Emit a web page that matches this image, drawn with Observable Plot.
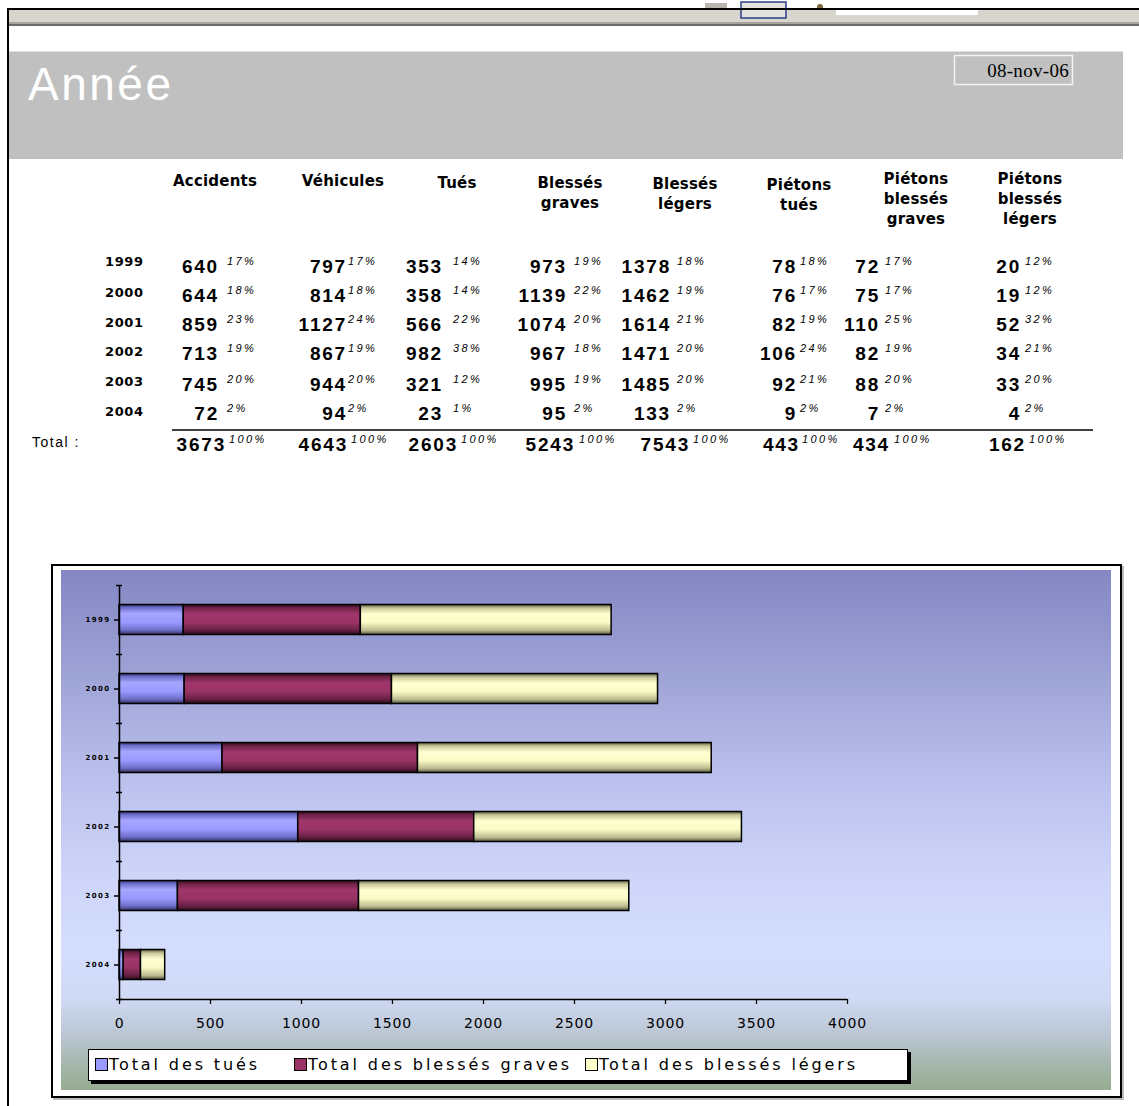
<!DOCTYPE html>
<html>
<head>
<meta charset="utf-8">
<script src="https://cdn.jsdelivr.net/npm/d3@7"></script>
<script src="https://cdn.jsdelivr.net/npm/@observablehq/plot@0.6"></script>
<style>
  html, body { margin: 0; padding: 0; background: #fff; }
  #page { position: relative; width: 1139px; height: 1106px; overflow: hidden; background: #fff; }
  .abs { position: absolute; }
  #chartFrame { left: 51px; top: 564px; width: 1067px; height: 530px; border: 2px solid #000; background: #fff; box-shadow: 2px 2px 0 #bbb; }
  #chartBg { left: 61px; top: 570px; width: 1050px; height: 520px;
    background: linear-gradient(to bottom, #8487c3 0%, #9ea3d6 20%, #bac0ec 40%, #cdd4f8 58%, #d4ddfe 72%, #d0daf6 82%, #b9c5d0 90%, #a2b4a6 96%, #97ac91 100%); }
  #plotHolder { left: 61px; top: 570px; width: 1050px; height: 520px; }
  #plotHolder svg { overflow: visible; }
  #plotHolder g[aria-label="x-axis tick label"] text { letter-spacing: 0.8px; }
  #plotHolder g[aria-label="y-axis tick label"] text { letter-spacing: 1.4px; }
  #legend { left: 88px; top: 1049px; width: 818px; height: 30px; border: 1px solid #000; background: #fff; box-shadow: 3px 3px 0 #000; }
  .legItem { position: absolute; top: 6px; font-family: "DejaVu Sans", sans-serif; font-size: 16px; letter-spacing: 2.9px; color: #000; line-height: 17px; white-space: nowrap; }
  .sw { display: inline-block; width: 11px; height: 11px; border: 1px solid #000; margin-right: 1px; vertical-align: -1px; }
</style>
</head>
<body>
<div id="page">
  <svg width="0" height="0" style="position:absolute">
    <defs>
      <linearGradient id="gT" x1="0" y1="0" x2="0" y2="1">
        <stop offset="0" stop-color="#303066"/>
        <stop offset="0.1" stop-color="#6c6cca"/>
        <stop offset="0.3" stop-color="#a6a6ff"/>
        <stop offset="0.6" stop-color="#9999ff"/>
        <stop offset="0.85" stop-color="#6e6ec8"/>
        <stop offset="1" stop-color="#2e2e5c"/>
      </linearGradient>
      <linearGradient id="gG" x1="0" y1="0" x2="0" y2="1">
        <stop offset="0" stop-color="#300c1c"/>
        <stop offset="0.12" stop-color="#702448"/>
        <stop offset="0.32" stop-color="#a0366c"/>
        <stop offset="0.6" stop-color="#993366"/>
        <stop offset="0.86" stop-color="#662042"/>
        <stop offset="1" stop-color="#2c0a1a"/>
      </linearGradient>
      <linearGradient id="gL" x1="0" y1="0" x2="0" y2="1">
        <stop offset="0" stop-color="#5a5a40"/>
        <stop offset="0.12" stop-color="#c8c89a"/>
        <stop offset="0.32" stop-color="#ffffd2"/>
        <stop offset="0.6" stop-color="#fafac6"/>
        <stop offset="0.86" stop-color="#bcbc90"/>
        <stop offset="1" stop-color="#55553c"/>
      </linearGradient>
    </defs>
  </svg>
  <div id="chartFrame" class="abs"></div>
  <div id="chartBg" class="abs"></div>
  <div id="plotHolder" class="abs"></div>
  <div id="legend" class="abs"></div>
</div>
<script>
// ---------- data ----------
const years = ["1999", "2000", "2001", "2002", "2003", "2004"];
const headerLines = [
  ["Accidents"], ["Véhicules"], ["Tués"], ["Blessés", "graves"], ["Blessés", "légers"],
  ["Piétons", "tués"], ["Piétons", "blessés", "graves"], ["Piétons", "blessés", "légers"]
];
const accidents = [640, 644, 859, 713, 745, 72];
const vehicules = [797, 814, 1127, 867, 944, 94];
const tues = [353, 358, 566, 982, 321, 23];
const blessesGraves = [973, 1139, 1074, 967, 995, 95];
const blessesLegers = [1378, 1462, 1614, 1471, 1485, 133];
const pietonsTues = [78, 76, 82, 106, 92, 9];
const pietonsBlessesGraves = [72, 75, 110, 82, 88, 7];
const pietonsBlessesLegers = [20, 19, 52, 34, 33, 4];

const accidentsPct = [17, 18, 23, 19, 20, 2];
const vehiculesPct = [17, 18, 24, 19, 20, 2];
const tuesPct = [14, 14, 22, 38, 12, 1];
const blessesGravesPct = [19, 22, 20, 18, 19, 2];
const blessesLegersPct = [18, 19, 21, 20, 20, 2];
const pietonsTuesPct = [18, 17, 19, 24, 21, 2];
const pietonsBlessesGravesPct = [17, 17, 25, 19, 20, 2];
const pietonsBlessesLegersPct = [12, 12, 32, 21, 20, 2];

const totals = [3673, 4643, 2603, 5243, 7543, 443, 434, 162];
const totalPct = [100, 100, 100, 100, 100, 100, 100, 100];

const seriesNames = ["Total des tués", "Total des blessés graves", "Total des blessés légers"];
const xTicks = [0, 500, 1000, 1500, 2000, 2500, 3000, 3500, 4000];
const titleText = "Année";
const dateText = "08-nov-06";
const totalLabel = "Total :";

// ---------- layout constants ----------
const colCenters = [215, 343, 457, 570, 685, 799, 916, 1030];
const headBase = [186, 186, 188, 188, 189, 190, 184, 184];
const numRight = [219, 347, 443, 567, 671, 797, 880, 1021];
const pctLeft = [227, 348, 453, 574, 677, 800, 885, 1025];
const totRight = [226, 348, 458, 575, 690, 800, 890, 1026];
const totPctLeft = [229, 351, 461, 579, 693, 802, 894, 1029];
const rowBase = [273, 302, 331, 360, 391, 420];
const yearBase = [266, 297, 327, 356, 386, 416];

const colValues = [accidents, vehicules, tues, blessesGraves, blessesLegers, pietonsTues, pietonsBlessesGraves, pietonsBlessesLegers];
const colPcts = [accidentsPct, vehiculesPct, tuesPct, blessesGravesPct, blessesLegersPct, pietonsTuesPct, pietonsBlessesGravesPct, pietonsBlessesLegersPct];

// ---------- page text (header + table) ----------
const page = d3.select("#page");
const hdr = page.insert("svg", ":first-child")
  .attr("width", 1139).attr("height", 560)
  .style("position", "absolute").style("left", 0).style("top", 0);

// window chrome
hdr.append("rect").attr("x", 9).attr("y", 10).attr("width", 1130).attr("height", 12).attr("fill", "#d8d5cd");
hdr.append("rect").attr("x", 9).attr("y", 22).attr("width", 1130).attr("height", 2).attr("fill", "#a6a49e");
hdr.append("rect").attr("x", 9).attr("y", 24).attr("width", 1130).attr("height", 2).attr("fill", "#6c6b68");
hdr.append("rect").attr("x", 836).attr("y", 10).attr("width", 142).attr("height", 5).attr("fill", "#fff");
hdr.append("rect").attr("x", 741).attr("y", 2).attr("width", 45).attr("height", 16).attr("fill", "#e4e2dc").attr("stroke", "#2a3f8a").attr("stroke-width", 1.5);
hdr.append("rect").attr("x", 705).attr("y", 3).attr("width", 22).attr("height", 5).attr("fill", "#b8b6ae");
hdr.append("circle").attr("cx", 820).attr("cy", 7).attr("r", 3).attr("fill", "#7a6a40");
hdr.append("rect").attr("x", 7).attr("y", 8).attr("width", 1132).attr("height", 2).attr("fill", "#000");

// header band
hdr.append("rect").attr("x", 9).attr("y", 52).attr("width", 1114).attr("height", 107).attr("fill", "#c0c0c0");
hdr.append("rect").attr("x", 9).attr("y", 51).attr("width", 1114).attr("height", 1).attr("fill", "#e0e0e0");
hdr.append("text").attr("x", 28).attr("y", 100).text(titleText)
  .attr("fill", "#fff").style("font-family", "Liberation Sans, Arial, sans-serif")
  .style("font-size", "46px").style("letter-spacing", "2.5px");
hdr.append("rect").attr("x", 954.5).attr("y", 55.5).attr("width", 118).attr("height", 29)
  .attr("fill", "none").attr("stroke", "#f2f2f2").attr("stroke-width", 1.5);
hdr.append("text").attr("x", 1069).attr("y", 77).attr("text-anchor", "end").text(dateText)
  .attr("fill", "#000").style("font-family", "Liberation Serif, serif").style("font-size", "19px")
  .style("letter-spacing", "0.3px");

// column headers
headerLines.forEach((lines, c) => {
  lines.forEach((ln, k) => {
    hdr.append("text").attr("x", colCenters[c]).attr("y", headBase[c] + k * 20)
      .attr("text-anchor", "middle").text(ln)
      .style("font-family", "DejaVu Sans, sans-serif").style("font-weight", "bold")
      .style("font-size", "15px").style("letter-spacing", "0.2px");
  });
});

// year rows
const numStyle = s => s.style("font-family", "Liberation Sans, Arial, sans-serif").style("font-weight", "bold")
  .style("font-size", "19px").style("letter-spacing", "1.8px");
const pctStyle = s => s.style("font-family", "Liberation Sans, Arial, sans-serif").style("font-style", "italic")
  .style("font-size", "11px").style("letter-spacing", "2.4px");

years.forEach((yr, r) => {
  hdr.append("text").attr("x", 105).attr("y", yearBase[r]).text(yr)
    .style("font-family", "DejaVu Sans, sans-serif").style("font-weight", "bold")
    .style("font-size", "13px").style("letter-spacing", "0.6px");
  colValues.forEach((vals, c) => {
    numStyle(hdr.append("text").attr("x", numRight[c]).attr("y", rowBase[r]).attr("text-anchor", "end").text(vals[r]));
    pctStyle(hdr.append("text").attr("x", pctLeft[c]).attr("y", rowBase[r] - 8).text(colPcts[c][r] + "%"));
  });
});

// total row
hdr.append("line").attr("x1", 172).attr("x2", 1093).attr("y1", 430).attr("y2", 430).attr("stroke", "#000").attr("stroke-width", 1.5);
hdr.append("text").attr("x", 32).attr("y", 447).text(totalLabel)
  .style("font-family", "Liberation Sans, Arial, sans-serif").style("font-size", "14px").style("letter-spacing", "1.5px");
totals.forEach((t, c) => {
  numStyle(hdr.append("text").attr("x", totRight[c]).attr("y", 451).attr("text-anchor", "end").text(t));
  pctStyle(hdr.append("text").attr("x", totPctLeft[c]).attr("y", 443).text(totalPct[c] + "%"));
});

// left window border
page.append("div").attr("class", "abs").style("left", "7px").style("top", "8px")
  .style("width", "2px").style("height", "1100px").style("background", "#000");

// ---------- chart ----------
const seriesValues = [tues, blessesGraves, blessesLegers];
const data = years.flatMap((yr, i) => seriesNames.map((s, j) => ({ year: yr, series: s, value: seriesValues[j][i] })));
const fills = ["url(#gT)", "url(#gG)", "url(#gL)"];

const W = 1050, H = 520, mT = 15, mB = 91;
const step = (H - mT - mB) / years.length;
const barH = 30;

const chart = Plot.plot({
  width: W, height: H,
  marginLeft: 58, marginRight: 264, marginTop: mT, marginBottom: mB,
  style: { background: "transparent", fontFamily: "DejaVu Sans, sans-serif", color: "#000", overflow: "visible" },
  x: { domain: [0, 4000], label: null },
  y: { domain: years, padding: 0, label: null },
  color: { domain: seriesNames, range: fills },
  marks: [
    Plot.barX(data, Plot.stackX({
      y: "year", x: "value", fill: "series", stroke: "#000", strokeWidth: 1.5,
      insetTop: (step - barH) / 2, insetBottom: (step - barH) / 2
    })),
    Plot.ruleX([0], { stroke: "#000", strokeWidth: 1.5 }),
    Plot.ruleY([years[years.length - 1]], { x1: 0, x2: 4000, dy: step / 2, stroke: "#000", strokeWidth: 1.5 }),
    Plot.axisX({ ticks: xTicks, tickSize: 5, tickPadding: 14, fontSize: 14, tickFormat: d => String(d), stroke: "#000", strokeWidth: 1.3 }),
    Plot.axisY({ tickSize: 5, tickPadding: 4, fontSize: 7, fontWeight: "bold", stroke: "#000", strokeWidth: 1.5 }),
    Plot.axisY({ text: null, tickSize: 6, dx: 3, dy: -step / 2, stroke: "#000", strokeWidth: 1.5 }),
    Plot.axisY({ ticks: [years[years.length - 1]], text: null, tickSize: 6, dx: 3, dy: step / 2, stroke: "#000", strokeWidth: 1.5 })
  ]
});
document.getElementById("plotHolder").appendChild(chart);

// ---------- legend ----------
const swColors = ["#9999ff", "#993366", "#ffffcc"];
const legLeft = [6, 205, 496];
const legend = d3.select("#legend");
seriesNames.forEach((s, i) => {
  const it = legend.append("div").attr("class", "legItem").style("left", legLeft[i] + "px");
  it.append("span").attr("class", "sw").style("background", swColors[i]);
  it.append("span").text(s);
});
</script>
</body>
</html>
